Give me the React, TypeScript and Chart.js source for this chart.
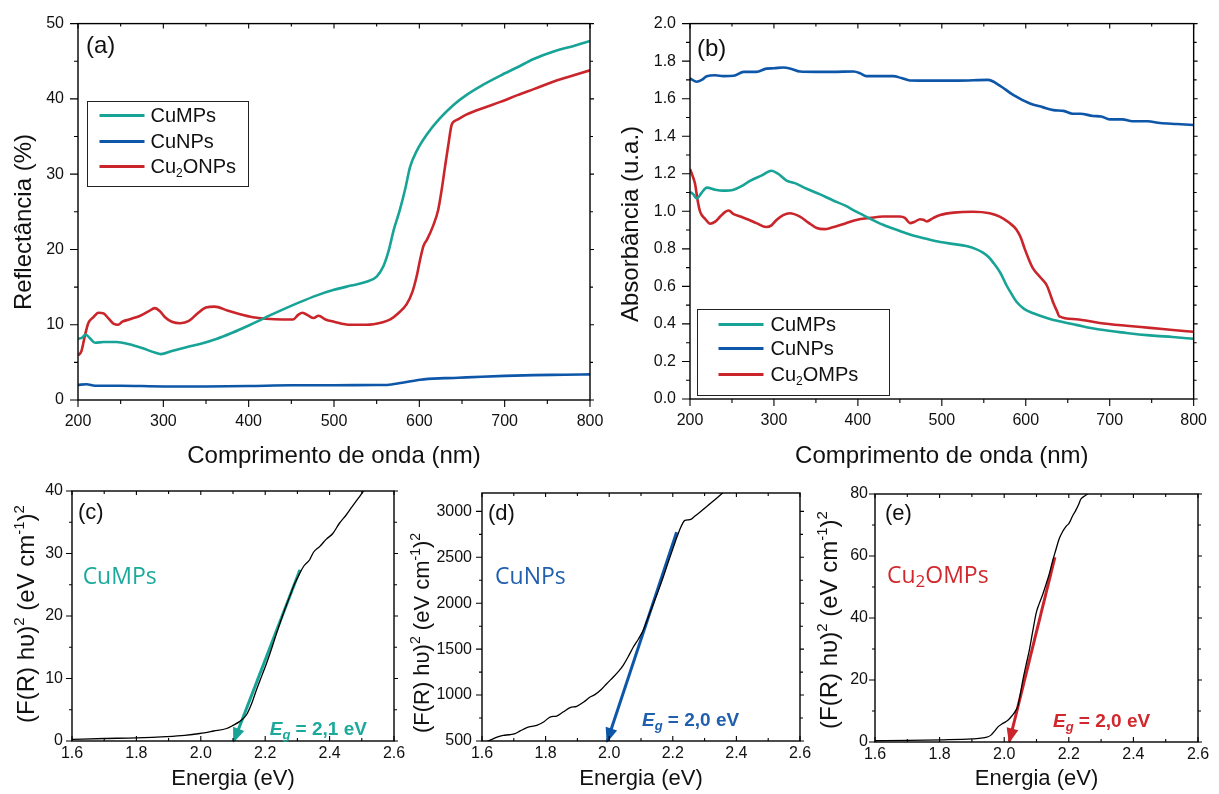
import React, { useEffect, useRef } from "react";
import { Chart, registerables } from "chart.js";
Chart.register(...registerables);

const ARIAL = '"Liberation Sans", Arial, sans-serif';
const CALIBRI = '"Open Sans", "Liberation Sans", sans-serif';
const TEAL = "#17a396";
const BLUE = "#0d56a8";
const RED = "#c9252b";
const TEAL_TXT = "#1aa99b";
const BLUE_TXT = "#1f5fae";
const RED_TXT = "#d1282d";

// ---------- tick values ----------
const waveTicks = [200, 300, 400, 500, 600, 700, 800];
const waveMinor = [250, 350, 450, 550, 650, 750];
const reflTicks = [0, 10, 20, 30, 40, 50];
const reflMinor = [5, 15, 25, 35, 45];
const absTicks = [0, 0.2, 0.4, 0.6, 0.8, 1.0, 1.2, 1.4, 1.6, 1.8, 2.0];
const absMinor = [0.1, 0.3, 0.5, 0.7, 0.9, 1.1, 1.3, 1.5, 1.7, 1.9];
const energyTicks = [1.6, 1.8, 2.0, 2.2, 2.4, 2.6];
const energyMinor = [1.7, 1.9, 2.1, 2.3, 2.5];
const cTicks = [0, 10, 20, 30, 40];
const cMinor = [5, 15, 25, 35];
const dTicks = [500, 1000, 1500, 2000, 2500, 3000];
const dMinor = [750, 1250, 1750, 2250, 2750];
const eTicks = [0, 20, 40, 60, 80];
const eMinor = [10, 30, 50, 70];

// ---------- (a) Reflectance ----------
const reflCuMPsNm = [200, 205, 209, 214, 220, 230, 245, 260, 275, 290, 297, 310, 327, 345, 362, 380, 402, 430, 460, 480, 499, 520, 538, 550, 558, 564, 570, 577, 584, 589, 597, 609, 624, 640, 655, 675, 695, 715, 734, 760, 780, 800];
const reflCuMPs = [8.1, 8.3, 8.7, 8.2, 7.6, 7.7, 7.7, 7.4, 6.9, 6.3, 6.1, 6.5, 7.0, 7.5, 8.1, 8.9, 10.0, 11.5, 13.0, 13.9, 14.6, 15.2, 15.7, 16.4, 17.8, 19.8, 22.6, 25.2, 28.3, 30.9, 33.1, 35.3, 37.4, 39.2, 40.5, 41.9, 43.1, 44.2, 45.3, 46.4, 47.0, 47.7];
const reflCuNPsNm = [200, 210, 220, 250, 300, 350, 400, 450, 500, 550, 562, 580, 601, 630, 655, 700, 734, 770, 800];
const reflCuNPs = [2.0, 2.1, 1.9, 1.9, 1.8, 1.8, 1.85, 1.95, 1.95, 2.0, 2.0, 2.3, 2.7, 2.9, 3.0, 3.2, 3.3, 3.35, 3.4];
const reflCu2ONm = [200, 204, 208, 212, 218, 224, 230, 236, 242, 247, 252, 260, 273, 283, 290, 296, 302, 310, 320, 330, 340, 350, 360, 375, 390, 405, 420, 440, 452, 458, 463, 470, 476, 482, 490, 500, 519, 538, 556, 566, 575, 585, 592, 597, 601, 605, 609, 616, 622, 626, 630, 634, 638, 644, 655, 675, 695, 715, 734, 760, 780, 800];
const reflCu2O = [5.9, 6.5, 8.5, 10.2, 11.0, 11.6, 11.5, 10.8, 10.1, 10.0, 10.4, 10.7, 11.2, 11.8, 12.2, 11.8, 11.0, 10.4, 10.2, 10.5, 11.5, 12.3, 12.4, 11.9, 11.4, 11.0, 10.8, 10.7, 10.7, 11.3, 11.6, 11.2, 10.9, 11.2, 10.7, 10.4, 10.0, 10.0, 10.3, 10.7, 11.5, 12.7, 14.4, 16.5, 18.7, 20.5, 21.3, 23.1, 25.2, 27.8, 30.9, 33.9, 36.6, 37.2, 37.9, 38.8, 39.6, 40.5, 41.3, 42.4, 43.1, 43.8];

// ---------- (b) Absorbance ----------
const absCuMPsNm = [200, 204, 208, 214, 220, 230, 239, 252, 262, 272, 285, 297, 305, 315, 325, 339, 355, 370, 385, 398, 415, 430, 450, 462, 480, 498, 515, 529, 540, 549, 556, 561, 570, 577, 583, 589, 598, 609, 625, 640, 660, 688, 720, 748, 775, 800];
const absCuMPs = [1.103, 1.09, 1.068, 1.10, 1.126, 1.115, 1.11, 1.115, 1.135, 1.164, 1.19, 1.216, 1.20, 1.164, 1.15, 1.12, 1.09, 1.059, 1.03, 0.998, 0.96, 0.928, 0.895, 0.876, 0.855, 0.836, 0.825, 0.815, 0.80, 0.78, 0.755, 0.728, 0.67, 0.606, 0.56, 0.518, 0.48, 0.457, 0.432, 0.414, 0.395, 0.37, 0.352, 0.339, 0.33, 0.321];
const absCuNPsNm = [200, 208, 214, 220, 230, 240, 252, 264, 279, 291, 300, 311, 320, 331, 350, 370, 395, 403, 410, 430, 442, 452, 462, 490, 520, 555, 569, 585, 605, 620, 633, 645, 656, 665, 680, 690, 700, 715, 727, 745, 760, 780, 800];
const absCuNPs = [1.708, 1.69, 1.70, 1.72, 1.725, 1.72, 1.722, 1.743, 1.743, 1.76, 1.762, 1.766, 1.76, 1.745, 1.743, 1.743, 1.745, 1.735, 1.72, 1.72, 1.72, 1.71, 1.697, 1.696, 1.696, 1.70, 1.67, 1.62, 1.574, 1.555, 1.539, 1.535, 1.52, 1.52, 1.508, 1.505, 1.49, 1.49, 1.48, 1.48, 1.47, 1.465, 1.46];
const absCu2ONm = [200, 203, 206, 209, 212, 218, 224, 230, 236, 242, 246, 252, 260, 270, 279, 291, 297, 303, 311, 319, 331, 341, 351, 360, 370, 385, 398, 415, 430, 450, 456, 462, 468, 474, 478, 482, 490, 498, 514, 537, 557, 569, 580, 589, 594, 599, 604, 609, 617, 625, 629, 633, 637, 640, 660, 688, 720, 748, 775, 800];
const absCu2O = [1.225, 1.19, 1.147, 1.06, 0.998, 0.96, 0.934, 0.945, 0.972, 0.997, 1.004, 0.985, 0.972, 0.955, 0.937, 0.916, 0.925, 0.954, 0.98, 0.99, 0.972, 0.94, 0.911, 0.905, 0.915, 0.935, 0.954, 0.965, 0.972, 0.972, 0.965, 0.937, 0.945, 0.958, 0.955, 0.946, 0.965, 0.98, 0.993, 0.998, 0.99, 0.972, 0.94, 0.902, 0.86, 0.797, 0.74, 0.693, 0.65, 0.606, 0.56, 0.51, 0.47, 0.44, 0.425, 0.405, 0.39, 0.379, 0.368, 0.358];

// ---------- (c) CuMPs Tauc ----------
const cEv = [1.6, 1.7, 1.8, 1.893, 1.95, 1.997, 2.04, 2.08, 2.1, 2.12, 2.142, 2.158, 2.173, 2.19, 2.204, 2.22, 2.235, 2.255, 2.276, 2.29, 2.307, 2.32, 2.338, 2.35, 2.369, 2.39, 2.41, 2.43, 2.452, 2.47, 2.49, 2.504, 2.52];
const cKm = [0.27, 0.4, 0.5, 0.7, 0.9, 1.2, 1.6, 2.0, 2.5, 3.1, 4.2, 6.0, 8.2, 10.5, 12.4, 14.8, 17.2, 20.2, 23.1, 25.0, 26.8, 28.0, 29.0, 30.2, 31.1, 32.3, 33.2, 34.8, 36.2, 37.5, 38.9, 39.9, 41.0];
const cFitEv = [2.308, 2.103];
const cFitKm = [27.4, 0];

// ---------- (d) CuNPs Tauc ----------
const dEv = [1.6, 1.62, 1.636, 1.652, 1.667, 1.685, 1.704, 1.72, 1.741, 1.772, 1.795, 1.814, 1.835, 1.855, 1.877, 1.898, 1.92, 1.94, 1.955, 1.975, 1.992, 2.013, 2.03, 2.044, 2.06, 2.076, 2.092, 2.107, 2.123, 2.139, 2.155, 2.17, 2.186, 2.202, 2.213, 2.223, 2.231, 2.238, 2.254, 2.27, 2.286, 2.302, 2.317, 2.335, 2.354, 2.37];
const dKm = [485, 500, 526, 548, 562, 568, 580, 610, 646, 671, 710, 761, 772, 815, 863, 878, 925, 979, 1005, 1060, 1124, 1196, 1260, 1324, 1420, 1523, 1610, 1705, 1850, 1995, 2140, 2285, 2450, 2611, 2720, 2811, 2870, 2902, 2909, 2950, 2992, 3040, 3083, 3135, 3192, 3240];
const dFitEv = [2.212, 1.994];
const dFitKm = [2774, 500];

// ---------- (e) Cu2OMPs Tauc ----------
const eEv = [1.6, 1.7, 1.811, 1.9, 1.934, 1.95, 1.96, 1.97, 1.98, 1.993, 2.006, 2.017, 2.027, 2.036, 2.042, 2.05, 2.058, 2.068, 2.078, 2.088, 2.099, 2.109, 2.119, 2.13, 2.14, 2.15, 2.16, 2.17, 2.181, 2.191, 2.201, 2.212, 2.222, 2.23, 2.237, 2.248, 2.258, 2.27];
const eKm = [0.4, 0.5, 0.7, 1.0, 1.3, 1.7, 2.3, 3.5, 4.8, 5.8, 6.6, 7.6, 8.8, 10.2, 11.5, 15.5, 20.1, 25.0, 29.7, 35.5, 41.6, 44.8, 47.5, 51.0, 54.4, 58.5, 62.0, 65.5, 67.9, 69.5, 70.6, 73.0, 74.8, 76.5, 78.3, 79.3, 80.0, 81.0];
const eFitEv = [2.157, 2.016];
const eFitKm = [59.6, 0.2];

// ---------- rich text ----------
type Seg = { t: string; sub: boolean; sup: boolean; it: boolean };
function parseRich(s: string): Seg[] {
  const out: Seg[] = [];
  let buf = "";
  let i = 0;
  while (i < s.length) {
    let j = i;
    let flags = "";
    while (j < s.length && "_^~".includes(s[j])) {
      flags += s[j];
      j++;
    }
    if (flags && s[j] === "{") {
      if (buf) {
        out.push({ t: buf, sub: false, sup: false, it: false });
        buf = "";
      }
      const end = s.indexOf("}", j);
      out.push({ t: s.slice(j + 1, end), sub: flags.includes("_"), sup: flags.includes("^"), it: flags.includes("~") });
      i = end + 1;
    } else {
      buf += s[i];
      i++;
    }
  }
  if (buf) out.push({ t: buf, sub: false, sup: false, it: false });
  return out;
}

type RichOpts = { size: number; family: string; bold?: boolean; color: string; align?: "left" | "center"; scriptScale?: number; subShift?: number; supShift?: number };
function drawRich(ctx: CanvasRenderingContext2D, text: string, x: number, y: number, o: RichOpts) {
  const segs = parseRich(text);
  const sc = o.scriptScale ?? 0.62;
  const fontOf = (s: Seg) => `${s.it ? "italic " : ""}${o.bold ? "bold " : ""}${s.sub || s.sup ? Math.round(o.size * sc) : o.size}px ${o.family}`;
  let total = 0;
  const widths = segs.map((s) => {
    ctx.font = fontOf(s);
    const w = ctx.measureText(s.t).width;
    total += w;
    return w;
  });
  let cx = o.align === "center" ? x - total / 2 : x;
  ctx.fillStyle = o.color;
  ctx.textBaseline = "middle";
  ctx.textAlign = "left";
  segs.forEach((s, k) => {
    ctx.font = fontOf(s);
    const dy = s.sub ? o.size * (o.subShift ?? 0.3) : s.sup ? -o.size * (o.supShift ?? 0.28) : 0;
    ctx.fillText(s.t, cx, y + dy);
    cx += widths[k];
  });
}

// ---------- specs ----------
type Series = { xs: number[]; ys: number[]; label: string; color: string; width: number; arrow?: boolean; smooth?: boolean };
type AxisSpec = { min: number; max: number; ticks: number[]; minor: number[]; fmt: (v: number) => string; pad: number };
type Spec = {
  left: number; top: number; w: number; h: number;
  plot: { l: number; t: number; r: number; b: number };
  x: AxisSpec; y: AxisSpec;
  tickLen: { bottom: number[]; left: number[]; top: number[]; right: number[] };
  series: Series[];
  xTitle: { text: string; y: number; size: number };
  yTitle: { text: string; x: number; y: number; size: number };
  panel: { text: string; dx: number; dy: number; size: number };
  legend?: { dx: number; dy: number; w: number; h: number; rows: number[]; line0: number; line1: number; textX: number; size: number };
  notes: { text: string; x: number; y: number; size: number; family: string; bold?: boolean; color: string; scriptScale?: number; subShift?: number }[];
};

const fmtInt = (v: number) => String(Math.round(v));
const fmt1 = (v: number) => v.toFixed(1);

const topTicks = { bottom: [7, 4, 1], left: [8, 4, 1], top: [5, 3, -1], right: [4, 3, 1] };
const botTicks = { bottom: [5, 3, -1], left: [6, 3, 1], top: [4, 3, -1], right: [4, 3, 1] };
const TAUC_TITLE = "(F(R) h\u03c5)^{2} (eV cm^{-1})^{2}";

const specA: Spec = {
  left: 0, top: 0, w: 620, h: 470,
  plot: { l: 78, t: 17, r: 590, b: 400 },
  x: { min: 200, max: 800, ticks: waveTicks, minor: waveMinor, fmt: fmtInt, pad: 12 },
  y: { min: 0, max: 50, ticks: reflTicks, minor: reflMinor, fmt: fmtInt, pad: 14 },
  tickLen: topTicks,
  series: [
    { xs: reflCuMPsNm, ys: reflCuMPs, label: "CuMPs", color: TEAL, width: 2.6, smooth: true },
    { xs: reflCuNPsNm, ys: reflCuNPs, label: "CuNPs", color: BLUE, width: 2.6, smooth: true },
    { xs: reflCu2ONm, ys: reflCu2O, label: "Cu_{2}ONPs", color: RED, width: 2.6, smooth: true },
  ],
  xTitle: { text: "Comprimento de onda (nm)", y: 456, size: 24 },
  yTitle: { text: "Reflect\u00e2ncia (%)", x: 24, y: 222, size: 24 },
  panel: { text: "(a)", dx: 8, dy: 23, size: 24 },
  legend: { dx: 9, dy: 77, w: 161, h: 85, rows: [14, 40, 65], line0: 12, line1: 57, textX: 63, size: 20 },
  notes: [],
};

const specB: Spec = {
  left: 610, top: 0, w: 609, h: 470,
  plot: { l: 80, t: 17, r: 584, b: 399 },
  x: { min: 200, max: 800, ticks: waveTicks, minor: waveMinor, fmt: fmtInt, pad: 12 },
  y: { min: 0, max: 2, ticks: absTicks, minor: absMinor, fmt: fmt1, pad: 14 },
  tickLen: topTicks,
  series: [
    { xs: absCuMPsNm, ys: absCuMPs, label: "CuMPs", color: TEAL, width: 2.6, smooth: true },
    { xs: absCuNPsNm, ys: absCuNPs, label: "CuNPs", color: BLUE, width: 2.6, smooth: true },
    { xs: absCu2ONm, ys: absCu2O, label: "Cu_{2}OMPs", color: RED, width: 2.6, smooth: true },
  ],
  xTitle: { text: "Comprimento de onda (nm)", y: 456, size: 24 },
  yTitle: { text: "Absorb\u00e2ncia (u.a.)", x: 21, y: 224, size: 24 },
  panel: { text: "(b)", dx: 7, dy: 26, size: 24 },
  legend: { dx: 7, dy: 285, w: 192, h: 86, rows: [15, 39, 65], line0: 21, line1: 66, textX: 73, size: 20 },
  notes: [],
};

const specC: Spec = {
  left: 0, top: 470, w: 410, h: 324,
  plot: { l: 72, t: 21, r: 394, b: 271 },
  x: { min: 1.6, max: 2.6, ticks: energyTicks, minor: energyMinor, fmt: fmt1, pad: 3 },
  y: { min: 0, max: 40, ticks: cTicks, minor: cMinor, fmt: fmtInt, pad: 9 },
  tickLen: botTicks,
  series: [
    { xs: cEv, ys: cKm, label: "CuMPs", color: "#000", width: 1.3, smooth: true },
    { xs: cFitEv, ys: cFitKm, label: "fit", color: TEAL, width: 3, arrow: true },
  ],
  xTitle: { text: "Energia (eV)", y: 309, size: 22 },
  yTitle: { text: TAUC_TITLE, x: 27, y: 144, size: 24 },
  panel: { text: "(c)", dx: 6, dy: 22, size: 22 },
  notes: [
    { text: "CuMPs", x: 1.633, y: 26.2, size: 23, family: CALIBRI, color: TEAL_TXT },
    { text: "~{E}_~{g} = 2,1 eV", x: 2.214, y: 1.8, size: 19, family: ARIAL, bold: true, color: TEAL_TXT },
  ],
};

const specD: Spec = {
  left: 395, top: 470, w: 420, h: 324,
  plot: { l: 87, t: 23, r: 405, b: 271 },
  x: { min: 1.6, max: 2.6, ticks: energyTicks, minor: energyMinor, fmt: fmt1, pad: 3 },
  y: { min: 500, max: 3200, ticks: dTicks, minor: dMinor, fmt: fmtInt, pad: 10 },
  tickLen: botTicks,
  series: [
    { xs: dEv, ys: dKm, label: "CuNPs", color: "#000", width: 1.3, smooth: true },
    { xs: dFitEv, ys: dFitKm, label: "fit", color: BLUE, width: 3, arrow: true },
  ],
  xTitle: { text: "Energia (eV)", y: 309, size: 22 },
  yTitle: { text: TAUC_TITLE, x: 28, y: 163, size: 22 },
  panel: { text: "(d)", dx: 6, dy: 21, size: 22 },
  notes: [
    { text: "CuNPs", x: 1.641, y: 2281, size: 23, family: CALIBRI, color: BLUE_TXT },
    { text: "~{E}_~{g} = 2,0 eV", x: 2.103, y: 725, size: 19, family: ARIAL, bold: true, color: BLUE_TXT },
  ],
};

const specE: Spec = {
  left: 800, top: 470, w: 419, h: 324,
  plot: { l: 75, t: 24, r: 398, b: 272 },
  x: { min: 1.6, max: 2.6, ticks: energyTicks, minor: energyMinor, fmt: fmt1, pad: 3 },
  y: { min: 0, max: 80, ticks: eTicks, minor: eMinor, fmt: fmtInt, pad: 7 },
  tickLen: botTicks,
  series: [
    { xs: eEv, ys: eKm, label: "Cu2OMPs", color: "#000", width: 1.3, smooth: true },
    { xs: eFitEv, ys: eFitKm, label: "fit", color: RED, width: 3, arrow: true },
  ],
  xTitle: { text: "Energia (eV)", y: 309, size: 22 },
  yTitle: { text: TAUC_TITLE, x: 30, y: 150, size: 24 },
  panel: { text: "(e)", dx: 10, dy: 20, size: 22 },
  notes: [
    { text: "Cu_{2}OMPs", x: 1.637, y: 53.3, size: 23, family: CALIBRI, color: RED_TXT, scriptScale: 0.72, subShift: 0.22 },
    { text: "~{E}_~{g} = 2,0 eV", x: 2.151, y: 6.5, size: 19, family: ARIAL, bold: true, color: RED_TXT },
  ],
};

// ---------- plugin ----------
function decor(spec: Spec) {
  return {
    id: "decor",
    afterDatasetsDraw(chart: any) {
      const ctx: CanvasRenderingContext2D = chart.ctx;
      const a = chart.chartArea;
      const xs = chart.scales.x;
      const ys = chart.scales.y;
      ctx.save();

      // arrowheads
      spec.series.forEach((s, i) => {
        if (!s.arrow) return;
        const pts = chart.getDatasetMeta(i).data;
        const p1 = pts[pts.length - 2];
        const p2 = pts[pts.length - 1];
        const dx = p2.x - p1.x;
        const dy = p2.y - p1.y;
        const L = Math.hypot(dx, dy);
        const ux = dx / L;
        const uy = dy / L;
        const tx = p2.x + ux * 2;
        const ty = p2.y + uy * 2;
        const hl = 15;
        const hw = 6;
        const bx = tx - ux * hl;
        const by = ty - uy * hl;
        ctx.fillStyle = s.color;
        ctx.beginPath();
        ctx.moveTo(tx, ty);
        ctx.lineTo(bx - uy * hw, by + ux * hw);
        ctx.lineTo(bx + uy * hw, by - ux * hw);
        ctx.closePath();
        ctx.fill();
      });

      // ticks
      const tl = spec.tickLen;
      ctx.strokeStyle = "#000";
      ctx.lineWidth = 1.1;
      ctx.beginPath();
      const xTick = (v: number, major: boolean) => {
        const p = xs.getPixelForValue(v);
        const lb = major ? tl.bottom[0] : tl.bottom[1];
        ctx.moveTo(p, a.bottom);
        ctx.lineTo(p, a.bottom + tl.bottom[2] * lb);
        const lt = major ? tl.top[0] : tl.top[1];
        ctx.moveTo(p, a.top);
        ctx.lineTo(p, a.top - tl.top[2] * lt);
      };
      const yTick = (v: number, major: boolean) => {
        const p = ys.getPixelForValue(v);
        const ll = major ? tl.left[0] : tl.left[1];
        ctx.moveTo(a.left, p);
        ctx.lineTo(a.left - tl.left[2] * ll, p);
        const lr = major ? tl.right[0] : tl.right[1];
        ctx.moveTo(a.right, p);
        ctx.lineTo(a.right + tl.right[2] * lr, p);
      };
      spec.x.ticks.forEach((v) => xTick(v, true));
      spec.x.minor.forEach((v) => xTick(v, false));
      spec.y.ticks.forEach((v) => yTick(v, true));
      spec.y.minor.forEach((v) => yTick(v, false));
      ctx.stroke();

      // frame
      ctx.lineWidth = 1.4;
      ctx.strokeRect(a.left, a.top, a.right - a.left, a.bottom - a.top);

      // legend
      if (spec.legend) {
        const L = spec.legend;
        const bx = Math.round(a.left + L.dx) + 0.5;
        const by = Math.round(a.top + L.dy) + 0.5;
        ctx.fillStyle = "#fff";
        ctx.fillRect(bx, by, L.w, L.h);
        ctx.strokeStyle = "#222";
        ctx.lineWidth = 1;
        ctx.strokeRect(bx, by, L.w, L.h);
        spec.series.filter((s) => !s.arrow).forEach((s, k) => {
          const yy = by + L.rows[k];
          ctx.strokeStyle = s.color;
          ctx.lineWidth = 3;
          ctx.beginPath();
          ctx.moveTo(bx + L.line0, yy);
          ctx.lineTo(bx + L.line1, yy);
          ctx.stroke();
          drawRich(ctx, s.label, bx + L.textX, yy + 1, { size: L.size, family: ARIAL, color: "#111", scriptScale: 0.6, subShift: 0.32 });
        });
      }

      // notes in data coordinates
      spec.notes.forEach((n) => {
        drawRich(ctx, n.text, xs.getPixelForValue(n.x), ys.getPixelForValue(n.y), {
          size: n.size, family: n.family, bold: n.bold, color: n.color, scriptScale: n.scriptScale ?? 0.68, subShift: n.subShift ?? 0.3,
        });
      });

      // panel label
      drawRich(ctx, spec.panel.text, a.left + spec.panel.dx, a.top + spec.panel.dy, { size: spec.panel.size, family: ARIAL, color: "#111" });

      // axis titles
      drawRich(ctx, spec.xTitle.text, (a.left + a.right) / 2, spec.xTitle.y, { size: spec.xTitle.size, family: ARIAL, color: "#111", align: "center" });
      ctx.save();
      ctx.translate(spec.yTitle.x, spec.yTitle.y);
      ctx.rotate(-Math.PI / 2);
      drawRich(ctx, spec.yTitle.text, 0, 0, { size: spec.yTitle.size, family: ARIAL, color: "#111", align: "center", scriptScale: 0.62, supShift: 0.3 });
      ctx.restore();

      ctx.restore();
    },
  };
}

function makeConfig(spec: Spec): any {
  const datasets = spec.series.map((s) => ({
    label: s.label,
    data: s.xs.map((x, i) => ({ x, y: s.ys[i] })),
    borderColor: s.color,
    backgroundColor: s.color,
    borderWidth: s.width,
    pointRadius: 0,
    pointHoverRadius: 0,
    fill: false,
    tension: s.smooth ? 0.4 : 0,
    cubicInterpolationMode: s.smooth ? "monotone" : "default",
    borderCapStyle: "butt",
    borderJoinStyle: "round",
  }));
  const tickFont = { family: ARIAL, size: 16 };
  return {
    type: "line",
    data: { datasets },
    options: {
      responsive: false,
      maintainAspectRatio: false,
      animation: false,
      devicePixelRatio: 1,
      events: [],
      layout: { padding: { top: spec.plot.t, right: spec.w - spec.plot.r, left: 0, bottom: 0 } },
      plugins: { legend: { display: false }, tooltip: { enabled: false }, title: { display: false } },
      scales: {
        x: {
          type: "linear",
          min: spec.x.min,
          max: spec.x.max,
          grid: { display: false, drawTicks: false },
          border: { display: false },
          title: { display: false },
          ticks: { autoSkip: false, maxRotation: 0, minRotation: 0, padding: spec.x.pad, font: tickFont, color: "#111", callback: (v: any) => spec.x.fmt(Number(v)) },
          afterBuildTicks: (sc: any) => {
            sc.ticks = spec.x.ticks.map((v) => ({ value: v }));
          },
          afterFit: (sc: any) => {
            sc.height = spec.h - spec.plot.b;
          },
        },
        y: {
          type: "linear",
          min: spec.y.min,
          max: spec.y.max,
          grid: { display: false, drawTicks: false },
          border: { display: false },
          title: { display: false },
          ticks: { autoSkip: false, padding: spec.y.pad, font: tickFont, color: "#111", callback: (v: any) => spec.y.fmt(Number(v)) },
          afterBuildTicks: (sc: any) => {
            sc.ticks = spec.y.ticks.map((v) => ({ value: v }));
          },
          afterFit: (sc: any) => {
            sc.width = spec.plot.l;
          },
        },
      },
    },
    plugins: [decor(spec)],
  };
}

function Panel({ spec }: { spec: Spec }) {
  const ref = useRef<HTMLCanvasElement>(null);
  useEffect(() => {
    const chart = new Chart(ref.current as HTMLCanvasElement, makeConfig(spec));
    return () => chart.destroy();
  }, [spec]);
  return (
    <canvas
      ref={ref}
      width={spec.w}
      height={spec.h}
      style={{ position: "absolute", left: spec.left, top: spec.top, width: spec.w, height: spec.h }}
    />
  );
}

export default function App() {
  return (
    <div style={{ position: "fixed", left: 0, top: 0, width: 1219, height: 794, background: "#fff", overflow: "hidden" }}>
      <Panel spec={specA} />
      <Panel spec={specB} />
      <Panel spec={specC} />
      <Panel spec={specD} />
      <Panel spec={specE} />
    </div>
  );
}
